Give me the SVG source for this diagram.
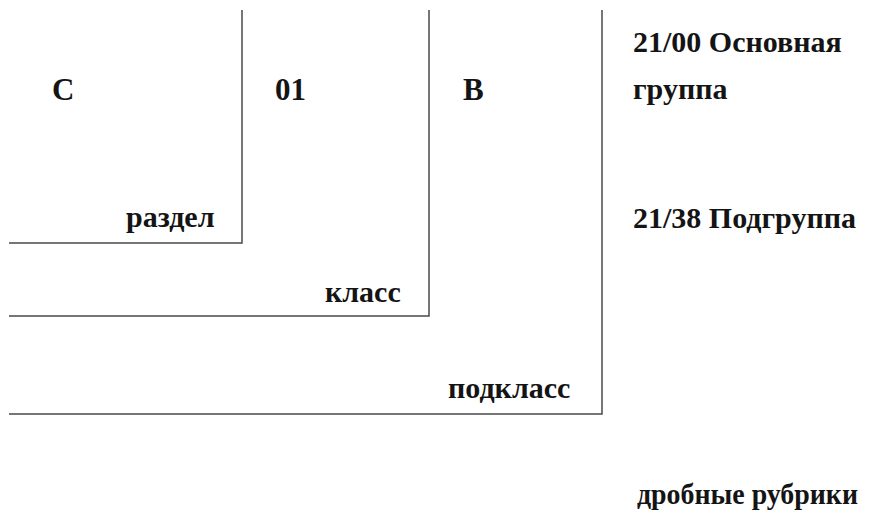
<svg xmlns="http://www.w3.org/2000/svg" width="889" height="522" viewBox="0 0 889 522">
  <style>
    .frame { fill: none; stroke: #4a4a4a; stroke-width: 1.5; }
    .lbl { font-family: "Liberation Serif", "Times New Roman", serif; font-weight: bold; font-size: 30px; fill: #141414; }
    .big { font-size: 31px; }
  </style>
  <rect width="889" height="522" fill="#ffffff"/>
  <g id="connectors">
    <polyline class="frame" points="242,10 242,243 9,243"/>
    <polyline class="frame" points="429,10 429,316 9,316"/>
    <polyline class="frame" points="602,10 602,414 9,414"/>
  </g>
  <g id="section">
    <text class="lbl big" x="52" y="100">C</text>
    <text class="lbl" x="126" y="227">раздел</text>
  </g>
  <g id="class">
    <text class="lbl big" x="275" y="100">01</text>
    <text class="lbl" x="325" y="302">класс</text>
  </g>
  <g id="subclass">
    <text class="lbl big" x="463" y="100">B</text>
    <text class="lbl" x="448" y="398">подкласс</text>
  </g>
  <g id="groups">
    <text class="lbl" x="633" y="52">21/00 Основная</text>
    <text class="lbl" x="633" y="99">группа</text>
    <text class="lbl" x="633" y="228">21/38 Подгруппа</text>
    <text class="lbl" x="637" y="504" textLength="221" lengthAdjust="spacingAndGlyphs">дробные рубрики</text>
  </g>
</svg>
